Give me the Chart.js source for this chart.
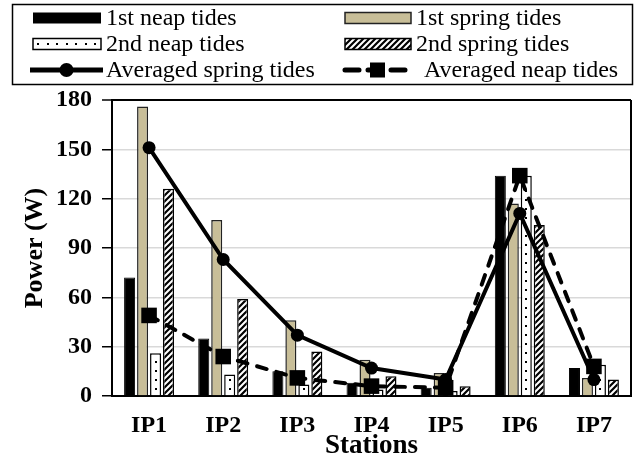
<!DOCTYPE html>
<html><head><meta charset="utf-8">
<script src="https://cdn.jsdelivr.net/npm/chart.js@4"></script>
<style>html,body{margin:0;padding:0;background:#fff}canvas{display:block}</style>
</head><body>
<canvas id="c" width="642" height="459"></canvas>
<script>
const stations = ['IP1','IP2','IP3','IP4','IP5','IP6','IP7'];
const neap1 = [72, 35, 15, 8, 5, 134, 17];
const spring1 = [176, 107, 46, 22, 14, 117, 11];
const neap2 = [26, 13, 7, 4, 3, 134, 19];
const spring2 = [126, 59, 27, 12, 6, 104, 10];
const avgSpring = [151, 83, 37, 17, 10, 111, 10];
const avgNeap = [49, 24, 11, 6, 5, 134, 18];
const yTicks = [0, 30, 60, 90, 120, 150, 180];
const legendLabels = ['1st neap tides','1st spring tides','2nd neap tides','2nd spring tides','Averaged spring tides','Averaged neap tides'];

const FONT = '"Liberation Serif","Times New Roman",Times,serif';
const TAN = '#c8be98';

function makeHatch(){
  const c = document.createElement('canvas'); c.width = 6; c.height = 6;
  const g = c.getContext('2d');
  g.fillStyle = '#fff'; g.fillRect(0,0,6,6);
  g.strokeStyle = '#000'; g.lineWidth = 2.2;
  g.beginPath();
  g.moveTo(-1,7); g.lineTo(7,-1);
  g.moveTo(-1,1); g.lineTo(1,-1);
  g.moveTo(5,7); g.lineTo(7,5);
  g.stroke();
  return document.createElement('canvas').getContext('2d').createPattern(c,'repeat');
}
const hatchPattern = makeHatch();

const dotsPlugin = {
  id:'dots',
  afterDatasetDraw(chart, args){
    if (args.index !== 2) return;
    const ctx = chart.ctx; ctx.save(); ctx.fillStyle = '#000';
    args.meta.data.forEach(el => {
      const p = el.getProps(['x','y','base'], true);
      for (let yy = p.base - 6; yy > p.y + 4; yy -= 9) ctx.fillRect(Math.round(p.x) - 1, Math.round(yy) - 1, 2, 2);
    });
    ctx.restore();
  }
};

const framePlugin = {
  id:'frame',
  afterDraw(chart){
    const ctx = chart.ctx, a = chart.chartArea;
    ctx.save();
    ctx.strokeStyle = '#000'; ctx.lineWidth = 2;
    ctx.beginPath(); ctx.moveTo(a.right, a.top); ctx.lineTo(a.right, a.bottom); ctx.stroke();
    // legend
    ctx.lineWidth = 1.5;
    ctx.strokeRect(12.5, 4.5, 620, 80);
    const r1 = 18, r2 = 44, r3 = 70;
    // row1
    ctx.fillStyle = '#000'; ctx.fillRect(33, r1 - 5.5, 68, 11);
    ctx.fillStyle = TAN; ctx.fillRect(345, r1 - 5.5, 66, 11);
    ctx.strokeStyle = '#222'; ctx.lineWidth = 1.5; ctx.strokeRect(345, r1 - 5.5, 66, 11);
    // row2
    ctx.fillStyle = '#fff'; ctx.fillRect(33, r2 - 5.5, 68, 11);
    ctx.strokeStyle = '#000'; ctx.strokeRect(33, r2 - 5.5, 68, 11);
    ctx.fillStyle = '#000';
    for (let x = 38; x < 100; x += 9.5) ctx.fillRect(Math.round(x) - 1, r2 - 1, 2, 2);
    ctx.fillStyle = hatchPattern; ctx.fillRect(345, r2 - 5.5, 66, 11);
    ctx.strokeRect(345, r2 - 5.5, 66, 11);
    // row3
    ctx.lineWidth = 5; ctx.strokeStyle = '#000';
    ctx.beginPath(); ctx.moveTo(30, r3); ctx.lineTo(103, r3); ctx.stroke();
    ctx.fillStyle = '#000'; ctx.beginPath(); ctx.arc(66.5, r3, 7, 0, Math.PI*2); ctx.fill();
    ctx.setLineDash([14, 9]); ctx.lineCap = 'round';
    ctx.beginPath(); ctx.moveTo(345, r3); ctx.lineTo(411, r3); ctx.stroke();
    ctx.setLineDash([]);
    ctx.fillRect(370, r3 - 7.5, 15, 15);
    // text
    ctx.fillStyle = '#000'; ctx.font = '24px ' + FONT; ctx.textBaseline = 'middle'; ctx.textAlign = 'left';
    ctx.fillText(legendLabels[0], 106, r1 + 1);
    ctx.fillText(legendLabels[1], 416, r1 + 1);
    ctx.fillText(legendLabels[2], 106, r2 + 1);
    ctx.fillText(legendLabels[3], 416, r2 + 1);
    ctx.fillText(legendLabels[4], 106, r3 + 1);
    ctx.fillText(legendLabels[5], 424, r3 + 1);
    ctx.restore();
  }
};

new Chart(document.getElementById('c'), {
  type: 'bar',
  data: {
    labels: stations,
    datasets: [
      {type:'bar', label:legendLabels[0], data:neap1, backgroundColor:'#000', borderColor:'#000', borderWidth:1, order:2},
      {type:'bar', label:legendLabels[1], data:spring1, backgroundColor:TAN, borderColor:'#222', borderWidth:1.5, order:2},
      {type:'bar', label:legendLabels[2], data:neap2, backgroundColor:'#fff', borderColor:'#000', borderWidth:1.5, order:2},
      {type:'bar', label:legendLabels[3], data:spring2, backgroundColor:hatchPattern, borderColor:'#000', borderWidth:1.5, order:2},
      {type:'line', label:legendLabels[4], data:avgSpring, borderColor:'#000', borderWidth:4, tension:0,
        pointStyle:'circle', pointRadius:6.5, pointBackgroundColor:'#000', pointBorderColor:'#000', pointBorderWidth:0, order:1},
      {type:'line', label:legendLabels[5], data:avgNeap, borderColor:'#000', borderWidth:4, tension:0,
        borderDash:[10,10], borderCapStyle:'round',
        pointStyle:'rect', pointRadius:11, pointBackgroundColor:'#000', pointBorderColor:'#000', pointBorderWidth:0, order:0}
    ]
  },
  options: {
    responsive:false, animation:false, devicePixelRatio:1,
    layout:{padding:{top:100, right:5, left:0, bottom:0}},
    plugins:{legend:{display:false}, tooltip:{enabled:false}},
    datasets:{bar:{categoryPercentage:0.7, barPercentage:0.85}},
    scales:{
      x:{
        grid:{display:false, drawTicks:false},
        border:{display:true, color:'#000', width:2},
        ticks:{color:'#000', font:{family:FONT, size:24, weight:'bold'}, padding:15, maxRotation:0},
        title:{display:true, text:'Stations', color:'#000', font:{family:FONT, size:27, weight:'bold', lineHeight:1}, padding:{top:0, bottom:-1}},
        afterFit(s){ s.height = 63; }
      },
      y:{
        min:0, max:180,
        afterBuildTicks(s){ s.ticks = yTicks.map(v => ({value:v})); },
        grid:{
          color: c => (c.tick && c.tick.value === 180) ? '#000' : '#d9d9d9',
          lineWidth: c => (c.tick && c.tick.value === 180) ? 2 : 1.5,
          drawTicks:true, tickLength:10, tickColor:'#000', tickWidth:1.5
        },
        border:{display:true, color:'#000', width:2},
        ticks:{color:'#000', font:{family:FONT, size:24, weight:'bold'}, padding:10},
        title:{display:true, text:'Power (W)', color:'#000', font:{family:FONT, size:26, weight:'bold'}, padding:{top:20, bottom:0}},
        afterFit(s){ s.width = 112; }
      }
    }
  },
  plugins:[dotsPlugin, framePlugin]
});
</script>
</body></html>
